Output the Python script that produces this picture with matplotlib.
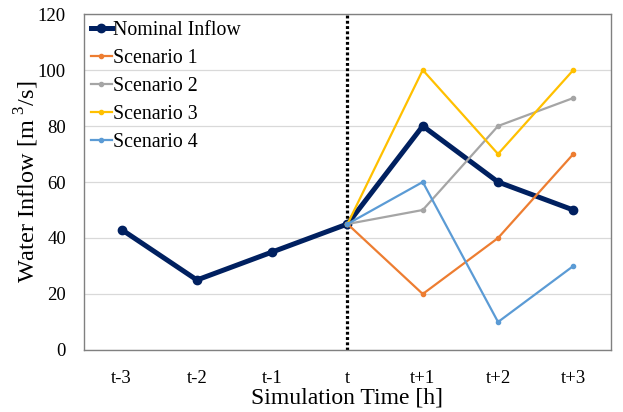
import matplotlib.pyplot as plt

plt.rcParams['font.family'] = ['Liberation Serif', 'DejaVu Serif']
plt.rcParams['mathtext.fontset'] = 'custom'
plt.rcParams['mathtext.rm'] = 'Liberation Serif'

times = ['t-3', 't-2', 't-1', 't', 't+1', 't+2', 't+3']
nominal = [43, 25, 35, 45, 80, 60, 50]

# scenarios start at "t"
scen_times = ['t', 't+1', 't+2', 't+3']
scenario1 = [45, 20, 40, 70]
scenario2 = [45, 50, 80, 90]
scenario3 = [45, 100, 70, 100]
scenario4 = [45, 60, 10, 30]

scen_names = ['Scenario 1', 'Scenario 2', 'Scenario 3', 'Scenario 4']
scen_colors = ['#ED7D31', '#A5A5A5', '#FFC000', '#5B9BD5']

fig = plt.figure(figsize=(6.23, 4.12), dpi=100)
ax = fig.add_axes([0.1348, 0.1505, 0.8459, 0.8155])

x = list(range(len(times)))
xs = [times.index(t) for t in scen_times]

ax.plot(x, nominal, color='#002060', lw=3.6, marker='o', ms=6,
        label='Nominal Inflow', zorder=3)
for vals, name, col in zip([scenario1, scenario2, scenario3, scenario4],
                           scen_names, scen_colors):
    ax.plot(xs, vals, color=col, lw=1.6, marker='o', ms=3,
            label=name, zorder=4)

ax.axvline(times.index('t'), color='black', lw=2.3, ls=(0, (0.9, 0.75)), zorder=2)

ax.set_xlim(-0.5, len(times) - 0.5)
ax.set_ylim(0, 120)
ax.set_yticks(range(0, 121, 20))
ax.set_xticks(x)
ax.set_xticklabels(times)
ax.grid(axis='y', color='#D9D9D9', lw=0.9, zorder=0)
ax.set_axisbelow(True)
for s in ax.spines.values():
    s.set_color('#808080')
    s.set_linewidth(1.0)
ax.tick_params(length=0, labelsize=13.5)
ax.tick_params(axis='x', pad=14.5)
ax.tick_params(axis='y', pad=13)

ax.set_xlabel('Simulation Time [h]', fontsize=17, labelpad=0)
ax.set_ylabel(r'Water Inflow [m$^{\ 3}$/s]', fontsize=17.5, labelpad=-2.5)

ax.legend(loc='upper left', frameon=False, fontsize=14.3, handlelength=1.05,
          handletextpad=0.05, labelspacing=0.45, borderaxespad=0.2,
          borderpad=0.15)

fig.savefig('out.png', dpi=100)
